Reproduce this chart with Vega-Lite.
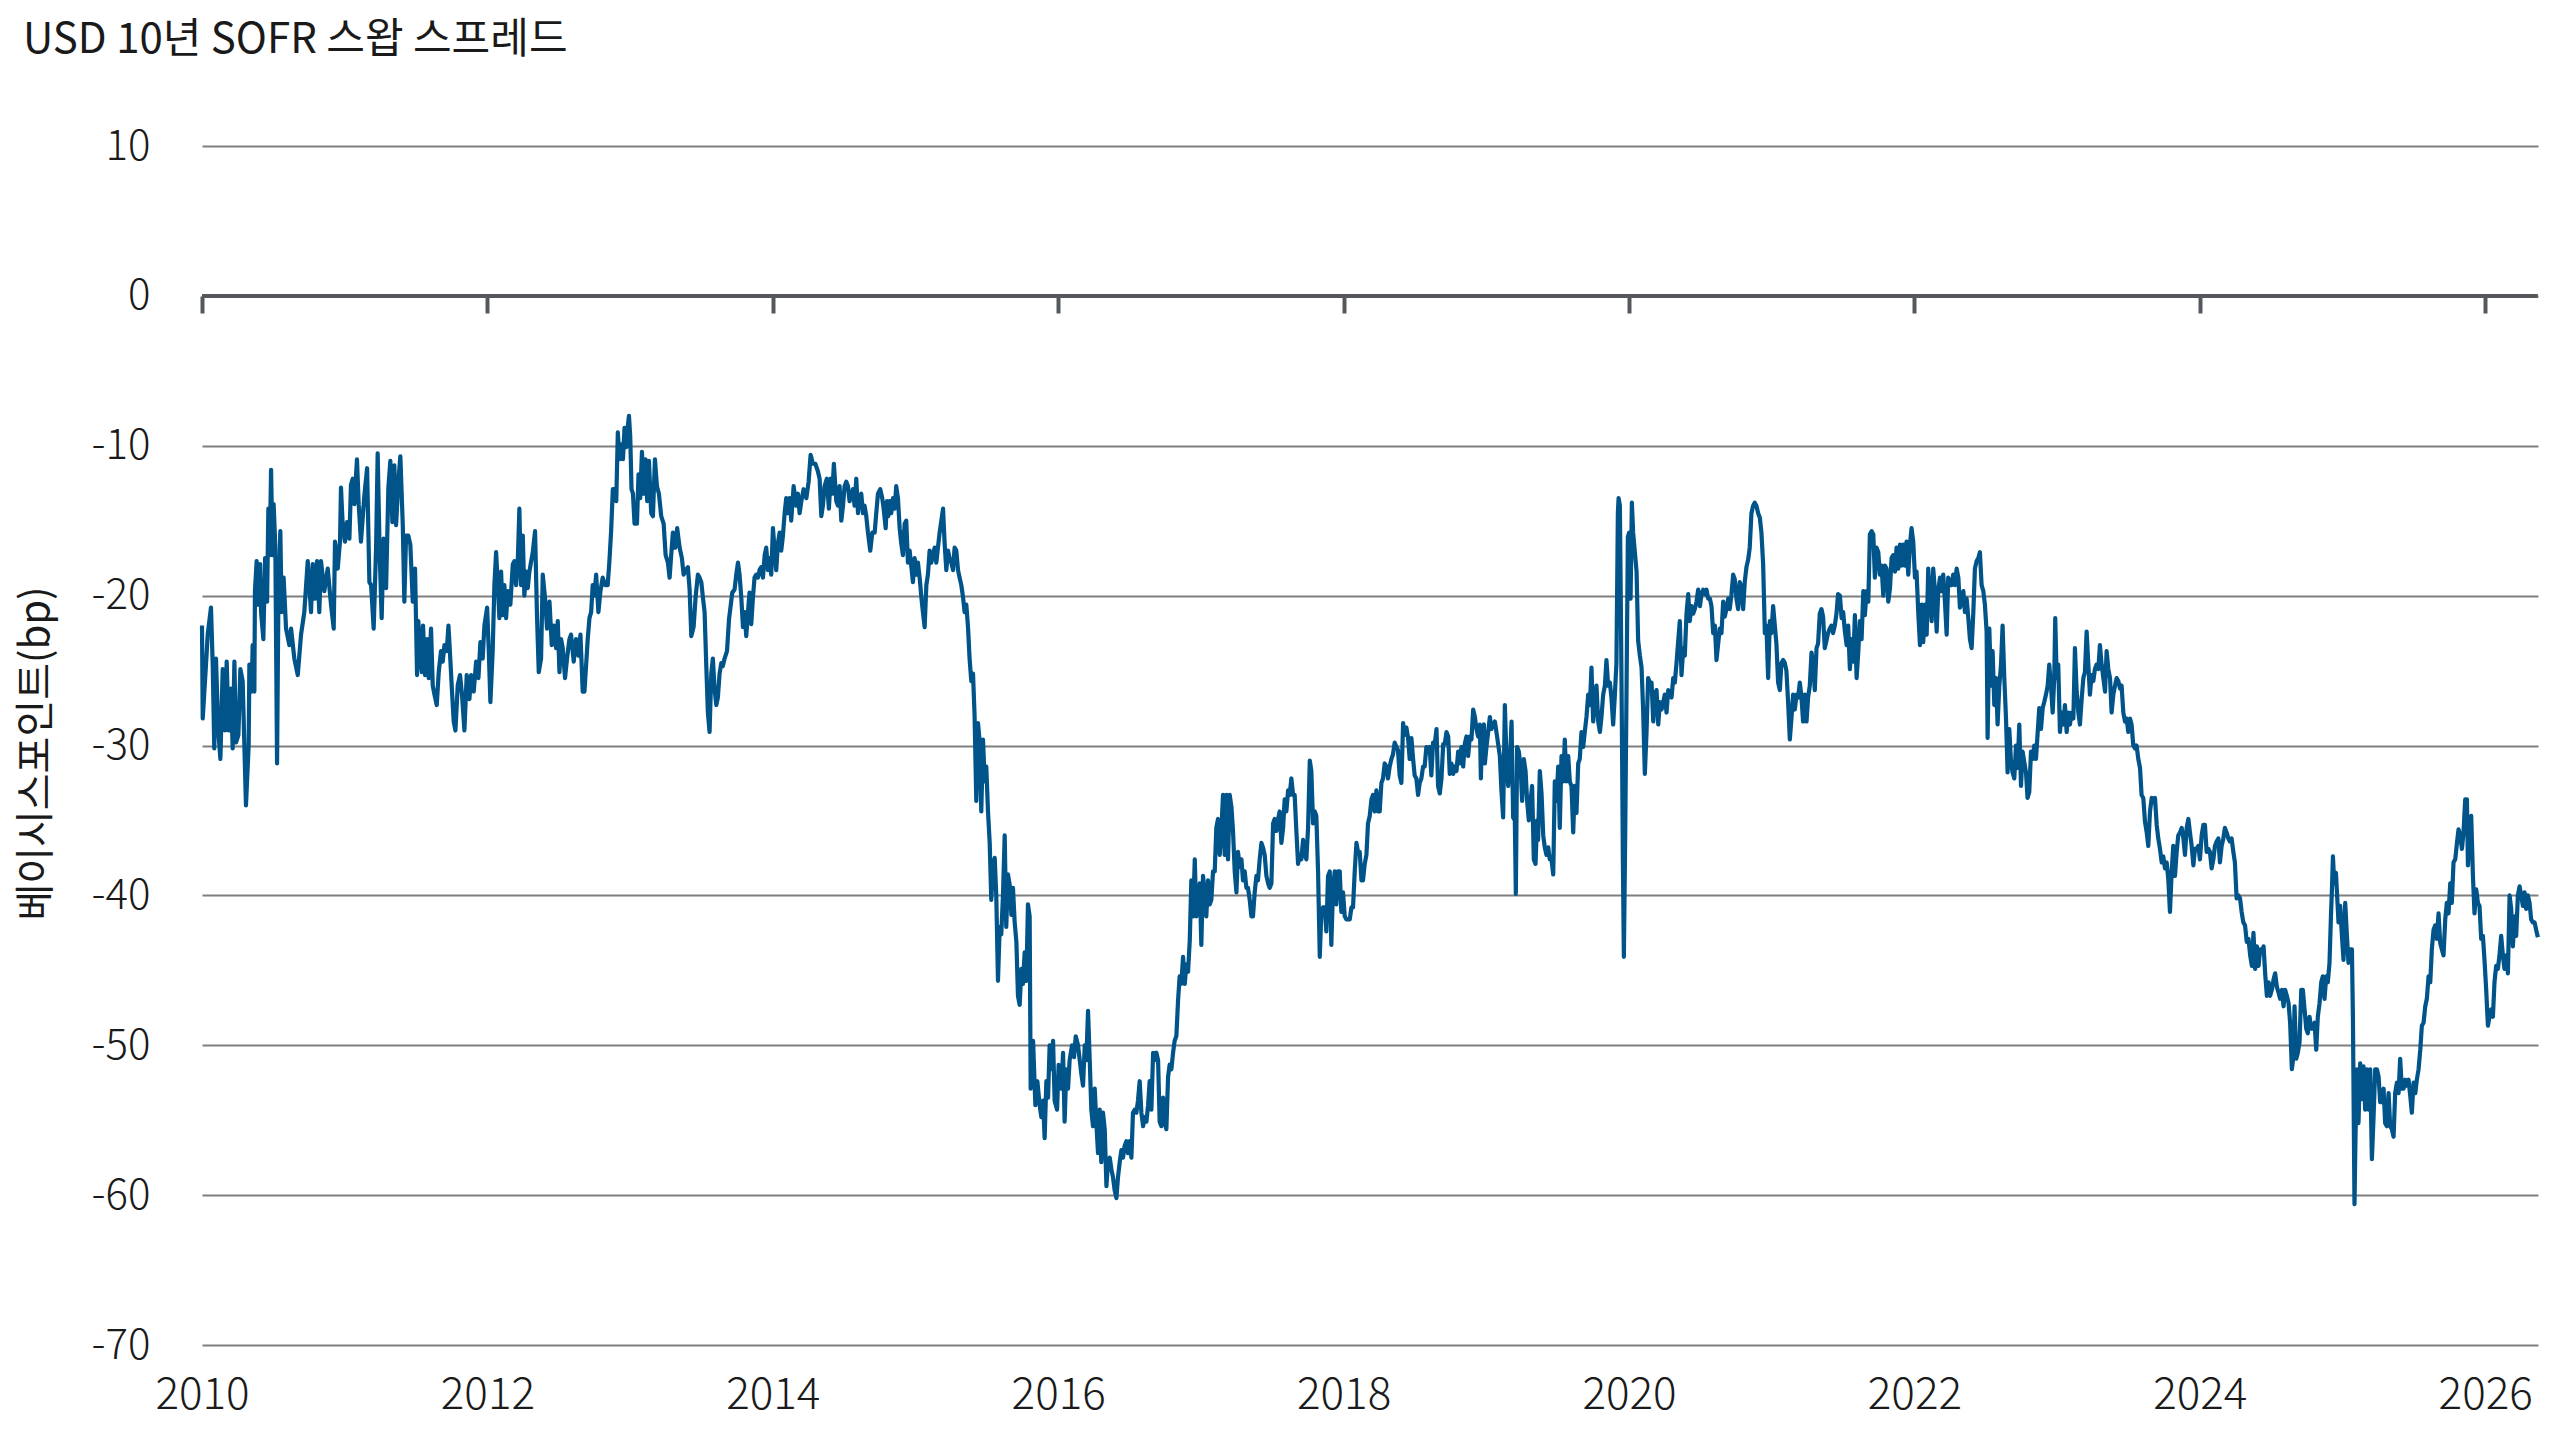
{
"$schema":"https://vega.github.io/schema/vega-lite/v6.json",
"width":2336,"height":1199,
"autosize":{"type":"none"},
"padding":{"left":202,"top":146,"right":22,"bottom":95},
"background":"white",
"config":{"font":"Noto Sans CJK KR","view":{"stroke":null}},
"title":{"text":"USD 10년 SOFR 스왑 스프레드","anchor":"start","frame":"group","dx":-179,"offset":30,"baseline":"alphabetic","fontSize":42,"fontWeight":400,"color":"#1a1a1a","font":"Noto Sans CJK KR"},
"data":{"values":[
{"t":2010.000,"v":-22},{"t":2010.005,"v":-28.2},{"t":2010.028,"v":-24.6},{"t":2010.040,"v":-22.6},{"t":2010.063,"v":-20.8},{"t":2010.075,"v":-24.6},{"t":2010.086,"v":-30.2},{"t":2010.098,"v":-24.2},{"t":2010.114,"v":-29},{"t":2010.129,"v":-30.9},{"t":2010.145,"v":-24.9},{"t":2010.161,"v":-29},{"t":2010.173,"v":-24.4},{"t":2010.187,"v":-29},{"t":2010.203,"v":-26.2},{"t":2010.215,"v":-30.2},{"t":2010.227,"v":-24.4},{"t":2010.238,"v":-29.8},{"t":2010.255,"v":-29.3},{"t":2010.269,"v":-24.9},{"t":2010.285,"v":-25.7},{"t":2010.308,"v":-34},{"t":2010.327,"v":-30},{"t":2010.332,"v":-24.6},{"t":2010.348,"v":-26.4},{"t":2010.355,"v":-23.3},{"t":2010.367,"v":-26.4},{"t":2010.371,"v":-19.7},{"t":2010.383,"v":-17.7},{"t":2010.395,"v":-20.6},{"t":2010.407,"v":-17.9},{"t":2010.414,"v":-21.1},{"t":2010.430,"v":-22.9},{"t":2010.442,"v":-17.5},{"t":2010.456,"v":-20.4},{"t":2010.465,"v":-14.2},{"t":2010.474,"v":-17.3},{"t":2010.484,"v":-11.6},{"t":2010.495,"v":-17.3},{"t":2010.502,"v":-13.9},{"t":2010.514,"v":-16.8},{"t":2010.526,"v":-31.2},{"t":2010.535,"v":-20.6},{"t":2010.549,"v":-15.7},{"t":2010.558,"v":-21.1},{"t":2010.572,"v":-18.8},{"t":2010.589,"v":-22.2},{"t":2010.612,"v":-23.3},{"t":2010.624,"v":-22.2},{"t":2010.647,"v":-24.2},{"t":2010.671,"v":-25.3},{"t":2010.694,"v":-22.6},{"t":2010.717,"v":-21.1},{"t":2010.741,"v":-17.7},{"t":2010.764,"v":-21.1},{"t":2010.776,"v":-17.9},{"t":2010.792,"v":-20.2},{"t":2010.806,"v":-17.7},{"t":2010.822,"v":-21.1},{"t":2010.834,"v":-17.7},{"t":2010.857,"v":-19.7},{"t":2010.881,"v":-18.2},{"t":2010.904,"v":-20.6},{"t":2010.923,"v":-22.2},{"t":2010.932,"v":-16.4},{"t":2010.951,"v":-18.2},{"t":2010.967,"v":-16.4},{"t":2010.974,"v":-12.8},{"t":2010.986,"v":-15.3},{"t":2011.002,"v":-16.4},{"t":2011.016,"v":-15.1},{"t":2011.033,"v":-16.2},{"t":2011.044,"v":-12.6},{"t":2011.056,"v":-12.2},{"t":2011.068,"v":-13.9},{"t":2011.086,"v":-10.9},{"t":2011.098,"v":-13.9},{"t":2011.114,"v":-16.4},{"t":2011.138,"v":-13.3},{"t":2011.157,"v":-11.5},{"t":2011.173,"v":-19.1},{"t":2011.185,"v":-19.3},{"t":2011.203,"v":-22.2},{"t":2011.220,"v":-16.8},{"t":2011.231,"v":-10.5},{"t":2011.245,"v":-17.1},{"t":2011.259,"v":-21.5},{"t":2011.273,"v":-16.2},{"t":2011.290,"v":-19.5},{"t":2011.306,"v":-12.8},{"t":2011.320,"v":-11},{"t":2011.334,"v":-15.1},{"t":2011.348,"v":-11.3},{"t":2011.360,"v":-15.3},{"t":2011.376,"v":-12.4},{"t":2011.390,"v":-10.7},{"t":2011.407,"v":-15.3},{"t":2011.418,"v":-20.4},{"t":2011.430,"v":-16},{"t":2011.446,"v":-16},{"t":2011.460,"v":-16.6},{"t":2011.477,"v":-20.4},{"t":2011.493,"v":-18.2},{"t":2011.507,"v":-25.3},{"t":2011.516,"v":-21.7},{"t":2011.530,"v":-24},{"t":2011.540,"v":-25.1},{"t":2011.549,"v":-22},{"t":2011.563,"v":-25.3},{"t":2011.577,"v":-22.9},{"t":2011.589,"v":-25.5},{"t":2011.605,"v":-22.2},{"t":2011.617,"v":-26},{"t":2011.629,"v":-26.6},{"t":2011.645,"v":-27.3},{"t":2011.659,"v":-25.1},{"t":2011.675,"v":-23.7},{"t":2011.687,"v":-24.4},{"t":2011.699,"v":-23.3},{"t":2011.715,"v":-23.7},{"t":2011.727,"v":-22},{"t":2011.741,"v":-24.4},{"t":2011.752,"v":-26.4},{"t":2011.764,"v":-28.4},{"t":2011.776,"v":-29},{"t":2011.792,"v":-26},{"t":2011.808,"v":-25.3},{"t":2011.822,"v":-26.6},{"t":2011.839,"v":-29},{"t":2011.855,"v":-25.3},{"t":2011.874,"v":-26.9},{"t":2011.886,"v":-25.3},{"t":2011.904,"v":-26.4},{"t":2011.921,"v":-24.4},{"t":2011.937,"v":-25.5},{"t":2011.951,"v":-23.1},{"t":2011.967,"v":-24.2},{"t":2011.979,"v":-22},{"t":2011.998,"v":-20.8},{"t":2012.009,"v":-23.5},{"t":2012.021,"v":-27.1},{"t":2012.037,"v":-23.7},{"t":2012.049,"v":-19.3},{"t":2012.061,"v":-17.1},{"t":2012.072,"v":-19.1},{"t":2012.084,"v":-21.5},{"t":2012.096,"v":-18.4},{"t":2012.107,"v":-21.3},{"t":2012.119,"v":-19.3},{"t":2012.131,"v":-21.5},{"t":2012.143,"v":-19.7},{"t":2012.161,"v":-20.6},{"t":2012.178,"v":-17.9},{"t":2012.189,"v":-17.7},{"t":2012.201,"v":-19.3},{"t":2012.213,"v":-17.7},{"t":2012.224,"v":-14.2},{"t":2012.236,"v":-19.3},{"t":2012.248,"v":-16},{"t":2012.259,"v":-20},{"t":2012.271,"v":-18.4},{"t":2012.283,"v":-19.5},{"t":2012.294,"v":-18.4},{"t":2012.318,"v":-17.1},{"t":2012.334,"v":-15.7},{"t":2012.348,"v":-21.5},{"t":2012.360,"v":-25.1},{"t":2012.376,"v":-24.2},{"t":2012.388,"v":-18.6},{"t":2012.404,"v":-20.2},{"t":2012.418,"v":-22.2},{"t":2012.435,"v":-20.4},{"t":2012.451,"v":-23.3},{"t":2012.465,"v":-22},{"t":2012.481,"v":-23.5},{"t":2012.493,"v":-21.7},{"t":2012.505,"v":-25.1},{"t":2012.516,"v":-22.9},{"t":2012.528,"v":-23.5},{"t":2012.544,"v":-25.5},{"t":2012.558,"v":-24.2},{"t":2012.575,"v":-22.9},{"t":2012.586,"v":-22.6},{"t":2012.605,"v":-24.4},{"t":2012.621,"v":-22.9},{"t":2012.638,"v":-24},{"t":2012.652,"v":-22.6},{"t":2012.668,"v":-26.4},{"t":2012.680,"v":-26.4},{"t":2012.692,"v":-24.6},{"t":2012.703,"v":-22.9},{"t":2012.715,"v":-21.5},{"t":2012.727,"v":-21.1},{"t":2012.738,"v":-19.3},{"t":2012.750,"v":-20},{"t":2012.762,"v":-18.6},{"t":2012.778,"v":-21.1},{"t":2012.792,"v":-19.7},{"t":2012.808,"v":-18.8},{"t":2012.825,"v":-19.3},{"t":2012.843,"v":-19.3},{"t":2012.855,"v":-17.7},{"t":2012.867,"v":-15.7},{"t":2012.879,"v":-12.9},
{"t":2012.891,"v":-12.9},{"t":2012.903,"v":-13.7},{"t":2012.914,"v":-9.1},{"t":2012.926,"v":-10.9},{"t":2012.938,"v":-9.9},{"t":2012.950,"v":-10.9},{"t":2012.961,"v":-8.8},{"t":2012.973,"v":-10.1},{"t":2012.985,"v":-8.6},{"t":2012.992,"v":-8},{"t":2013.001,"v":-9.4},{"t":2013.010,"v":-12.9},{"t":2013.020,"v":-13.2},{"t":2013.031,"v":-15.2},{"t":2013.048,"v":-15.2},{"t":2013.059,"v":-11.9},{"t":2013.071,"v":-13.5},{"t":2013.083,"v":-10.4},{"t":2013.097,"v":-13.2},{"t":2013.108,"v":-10.9},{"t":2013.120,"v":-13.7},{"t":2013.132,"v":-11},{"t":2013.148,"v":-14.5},{"t":2013.160,"v":-14.7},{"t":2013.174,"v":-10.9},{"t":2013.188,"v":-12.7},{"t":2013.202,"v":-13.2},{"t":2013.218,"v":-14.7},{"t":2013.235,"v":-15.2},{"t":2013.249,"v":-17.3},{"t":2013.265,"v":-17.8},{"t":2013.277,"v":-18.8},{"t":2013.288,"v":-17.3},{"t":2013.300,"v":-15.8},{"t":2013.316,"v":-16.8},{"t":2013.330,"v":-15.5},{"t":2013.347,"v":-16.8},{"t":2013.363,"v":-17.5},{"t":2013.375,"v":-18.6},{"t":2013.389,"v":-18.3},{"t":2013.405,"v":-18.1},{"t":2013.417,"v":-19.6},{"t":2013.429,"v":-22.7},{"t":2013.445,"v":-22.1},{"t":2013.459,"v":-20.1},{"t":2013.475,"v":-18.6},{"t":2013.487,"v":-18.8},{"t":2013.499,"v":-19.1},{"t":2013.510,"v":-20.1},{"t":2013.522,"v":-21.1},{"t":2013.534,"v":-24.7},{"t":2013.545,"v":-27.8},{"t":2013.557,"v":-29.1},{"t":2013.569,"v":-25.2},{"t":2013.580,"v":-24.2},{"t":2013.592,"v":-26.2},{"t":2013.604,"v":-27.3},{"t":2013.615,"v":-26.8},{"t":2013.627,"v":-25.2},{"t":2013.639,"v":-24.5},{"t":2013.650,"v":-24.7},{"t":2013.662,"v":-24.2},{"t":2013.679,"v":-23.7},{"t":2013.693,"v":-21.6},{"t":2013.702,"v":-20.9},{"t":2013.716,"v":-19.8},{"t":2013.732,"v":-19.6},{"t":2013.744,"v":-18.6},{"t":2013.756,"v":-17.8},{"t":2013.767,"v":-18.6},{"t":2013.779,"v":-20.1},{"t":2013.791,"v":-22.1},{"t":2013.802,"v":-21.1},{"t":2013.814,"v":-22.7},{"t":2013.826,"v":-21.1},{"t":2013.837,"v":-19.8},{"t":2013.849,"v":-21.9},{"t":2013.861,"v":-20.1},{"t":2013.872,"v":-18.8},{"t":2013.884,"v":-18.6},{"t":2013.896,"v":-18.8},{"t":2013.907,"v":-18.3},{"t":2013.919,"v":-18.1},{"t":2013.931,"v":-18.8},{"t":2013.943,"v":-17.3},{"t":2013.954,"v":-16.8},{"t":2013.966,"v":-18.3},{"t":2013.978,"v":-17.5},{"t":2013.989,"v":-18.6},{"t":2014.001,"v":-15.5},{"t":2014.013,"v":-17},{"t":2014.024,"v":-18.3},{"t":2014.036,"v":-16.5},{"t":2014.048,"v":-15.8},{"t":2014.059,"v":-17},{"t":2014.071,"v":-16},{"t":2014.083,"v":-14.5},{"t":2014.094,"v":-13.5},{"t":2014.106,"v":-14.5},{"t":2014.118,"v":-13.5},{"t":2014.129,"v":-15},{"t":2014.146,"v":-12.7},{"t":2014.164,"v":-14},{"t":2014.176,"v":-13.2},{"t":2014.188,"v":-14.5},{"t":2014.200,"v":-13.7},{"t":2014.216,"v":-12.9},{"t":2014.235,"v":-13.5},{"t":2014.251,"v":-12.4},{"t":2014.265,"v":-10.6},{"t":2014.281,"v":-11.2},{"t":2014.298,"v":-11.2},{"t":2014.316,"v":-11.7},{"t":2014.328,"v":-12.2},{"t":2014.340,"v":-14.7},{"t":2014.351,"v":-14},{"t":2014.363,"v":-12.7},{"t":2014.379,"v":-12.2},{"t":2014.393,"v":-14.2},{"t":2014.405,"v":-12.2},{"t":2014.417,"v":-13.2},{"t":2014.428,"v":-11.2},{"t":2014.445,"v":-13.7},{"t":2014.457,"v":-14},{"t":2014.468,"v":-12.7},{"t":2014.480,"v":-15},{"t":2014.492,"v":-14},{"t":2014.503,"v":-12.7},{"t":2014.515,"v":-12.4},{"t":2014.527,"v":-12.7},{"t":2014.538,"v":-13.7},{"t":2014.550,"v":-13.2},{"t":2014.562,"v":-12.9},{"t":2014.573,"v":-14},{"t":2014.585,"v":-12.2},{"t":2014.597,"v":-14.5},{"t":2014.608,"v":-13.5},{"t":2014.620,"v":-13.2},{"t":2014.632,"v":-14.5},{"t":2014.643,"v":-14},{"t":2014.655,"v":-14.7},{"t":2014.667,"v":-15.8},{"t":2014.683,"v":-17},{"t":2014.697,"v":-15.8},{"t":2014.714,"v":-15.8},{"t":2014.725,"v":-14.5},{"t":2014.737,"v":-13.2},{"t":2014.753,"v":-12.9},{"t":2014.767,"v":-13.5},{"t":2014.777,"v":-14.2},{"t":2014.791,"v":-15.5},{"t":2014.800,"v":-13.7},{"t":2014.809,"v":-14.7},{"t":2014.819,"v":-13.7},{"t":2014.830,"v":-14.5},{"t":2014.842,"v":-13.5},{"t":2014.854,"v":-14.2},{"t":2014.865,"v":-12.7},{"t":2014.877,"v":-13.5},{"t":2014.889,"v":-15.5},{"t":2014.900,"v":-16.5},{"t":2014.912,"v":-17.3},{"t":2014.924,"v":-15.2},{"t":2014.935,"v":-15},{"t":2014.947,"v":-17.8},{"t":2014.959,"v":-17},{"t":2014.971,"v":-18.1},{"t":2014.982,"v":-19.1},{"t":2014.994,"v":-17.5},{"t":2015.006,"v":-18.6},{"t":2015.017,"v":-17.8},{"t":2015.029,"v":-18.8},{"t":2015.041,"v":-20.1},{"t":2015.052,"v":-21.1},{"t":2015.064,"v":-22.1},{"t":2015.076,"v":-19.3},{"t":2015.087,"v":-18.6},{"t":2015.099,"v":-17},{"t":2015.111,"v":-17.8},{"t":2015.122,"v":-17.3},{"t":2015.134,"v":-16.8},{"t":2015.146,"v":-17.8},{"t":2015.157,"v":-16.8},{"t":2015.169,"v":-15.8},{"t":2015.181,"v":-15},{"t":2015.193,"v":-14.2},{"t":2015.204,"v":-16.5},{"t":2015.216,"v":-18.3},{"t":2015.228,"v":-17},{"t":2015.239,"v":-17.5},{"t":2015.251,"v":-17.8},{"t":2015.263,"v":-18.3},{"t":2015.274,"v":-16.8},{"t":2015.286,"v":-17},{"t":2015.298,"v":-18.3},{"t":2015.309,"v":-18.8},{"t":2015.321,"v":-19.3},{"t":2015.333,"v":-20.1},{"t":2015.344,"v":-21.1},{"t":2015.356,"v":-20.6},{"t":2015.368,"v":-22.1},{"t":2015.379,"v":-24.2},{"t":2015.391,"v":-25.7},{"t":2015.403,"v":-25.2},{"t":2015.414,"v":-28},{"t":2015.426,"v":-33.7},{"t":2015.438,"v":-28.5},{"t":2015.450,"v":-29.8},{"t":2015.461,"v":-34.4},{"t":2015.473,"v":-29.6},{"t":2015.485,"v":-32.4},{"t":2015.496,"v":-31.4},{"t":2015.508,"v":-34.4},{"t":2015.520,"v":-36.5},{"t":2015.531,"v":-40.3},{"t":2015.543,"v":-38},{"t":2015.555,"v":-37.5},{"t":2015.566,"v":-40},{"t":2015.578,"v":-45.7},{"t":2015.590,"v":-42.1},{"t":2015.601,"v":-42.6},{"t":2015.613,"v":-40},{"t":2015.625,"v":-36},{"t":2015.636,"v":-42.1},{"t":2015.648,"v":-38.6},{"t":2015.660,"v":-39.3},{"t":2015.672,"v":-41.3},{"t":2015.683,"v":-39.5},{"t":2015.695,"v":-41.8},{"t":2015.707,"v":-43.1},
{"t":2015.718,"v":-46.7},{"t":2015.730,"v":-47.3},{"t":2015.742,"v":-44.9},{"t":2015.753,"v":-45.9},{"t":2015.765,"v":-43.8},{"t":2015.777,"v":-45.7},{"t":2015.788,"v":-40.6},{"t":2015.800,"v":-41.4},{"t":2015.807,"v":-52.9},{"t":2015.824,"v":-49.7},{"t":2015.840,"v":-54},{"t":2015.854,"v":-52.4},{"t":2015.870,"v":-54},{"t":2015.882,"v":-54.8},{"t":2015.894,"v":-53.7},{"t":2015.905,"v":-56.2},{"t":2015.917,"v":-52.4},{"t":2015.929,"v":-53.5},{"t":2015.940,"v":-50},{"t":2015.952,"v":-51.6},{"t":2015.964,"v":-49.7},{"t":2015.975,"v":-53.7},{"t":2015.992,"v":-54.3},{"t":2016.003,"v":-51.3},{"t":2016.022,"v":-52.9},{"t":2016.034,"v":-50.5},{"t":2016.045,"v":-55.1},{"t":2016.057,"v":-51.6},{"t":2016.069,"v":-52.9},{"t":2016.080,"v":-51},{"t":2016.097,"v":-50},{"t":2016.111,"v":-50.8},{"t":2016.123,"v":-49.4},{"t":2016.139,"v":-50},{"t":2016.151,"v":-51},{"t":2016.162,"v":-51.9},{"t":2016.174,"v":-52.7},{"t":2016.186,"v":-50},{"t":2016.197,"v":-51},{"t":2016.209,"v":-47.7},{"t":2016.221,"v":-51},{"t":2016.232,"v":-54.3},{"t":2016.244,"v":-55.4},{"t":2016.256,"v":-52.9},{"t":2016.267,"v":-55.1},{"t":2016.279,"v":-57.2},{"t":2016.291,"v":-54.3},{"t":2016.302,"v":-57.8},{"t":2016.314,"v":-54.5},{"t":2016.326,"v":-55.6},{"t":2016.338,"v":-59.4},{"t":2016.349,"v":-57.8},{"t":2016.361,"v":-57.5},{"t":2016.373,"v":-58.3},{"t":2016.384,"v":-58.8},{"t":2016.396,"v":-59.7},{"t":2016.408,"v":-60.2},{"t":2016.419,"v":-58.8},{"t":2016.431,"v":-57.8},{"t":2016.443,"v":-57},{"t":2016.454,"v":-57.5},{"t":2016.466,"v":-56.7},{"t":2016.478,"v":-56.4},{"t":2016.489,"v":-57.2},{"t":2016.501,"v":-56.4},{"t":2016.513,"v":-57.5},{"t":2016.524,"v":-54.5},{"t":2016.536,"v":-54.3},{"t":2016.548,"v":-54.5},{"t":2016.559,"v":-53.7},{"t":2016.571,"v":-52.4},{"t":2016.583,"v":-54.5},{"t":2016.595,"v":-55.4},{"t":2016.606,"v":-54.8},{"t":2016.618,"v":-55.1},{"t":2016.630,"v":-54},{"t":2016.641,"v":-52.4},{"t":2016.653,"v":-54.3},{"t":2016.665,"v":-50.5},{"t":2016.676,"v":-51},{"t":2016.688,"v":-50.5},{"t":2016.700,"v":-51},{"t":2016.711,"v":-55.1},{"t":2016.723,"v":-55.4},{"t":2016.735,"v":-53.5},{"t":2016.746,"v":-55.1},{"t":2016.758,"v":-55.6},{"t":2016.770,"v":-52.1},{"t":2016.781,"v":-51.3},{"t":2016.793,"v":-51.6},{"t":2016.805,"v":-50.5},{"t":2016.816,"v":-49.7},{"t":2016.828,"v":-49.4},{"t":2016.840,"v":-47},{"t":2016.851,"v":-45.4},{"t":2016.863,"v":-45.9},{"t":2016.875,"v":-44.1},{"t":2016.887,"v":-45.9},{"t":2016.898,"v":-44.6},{"t":2016.910,"v":-45.1},{"t":2016.922,"v":-43},{"t":2016.933,"v":-39},{"t":2016.945,"v":-41.4},{"t":2016.957,"v":-37.6},{"t":2016.968,"v":-41.4},{"t":2016.980,"v":-40.6},{"t":2016.992,"v":-39.2},{"t":2017.003,"v":-43.3},{"t":2017.015,"v":-38.7},{"t":2017.027,"v":-40},{"t":2017.038,"v":-41.4},{"t":2017.050,"v":-39},{"t":2017.062,"v":-40.6},{"t":2017.073,"v":-40.3},{"t":2017.085,"v":-38.4},{"t":2017.097,"v":-38.4},{"t":2017.108,"v":-35.5},{"t":2017.120,"v":-34.9},{"t":2017.132,"v":-37.3},{"t":2017.143,"v":-35.7},{"t":2017.155,"v":-33.3},{"t":2017.167,"v":-37.3},{"t":2017.179,"v":-33.3},{"t":2017.190,"v":-37.6},{"t":2017.202,"v":-33.3},{"t":2017.214,"v":-34.1},{"t":2017.225,"v":-35.7},{"t":2017.237,"v":-38.4},{"t":2017.249,"v":-39.8},{"t":2017.260,"v":-37.1},{"t":2017.272,"v":-38.1},{"t":2017.284,"v":-37.6},{"t":2017.295,"v":-39},{"t":2017.307,"v":-38.4},{"t":2017.319,"v":-39.5},{"t":2017.330,"v":-39.5},{"t":2017.342,"v":-40.3},{"t":2017.354,"v":-41.4},{"t":2017.365,"v":-41.4},{"t":2017.377,"v":-39.8},{"t":2017.389,"v":-38.7},{"t":2017.400,"v":-39},{"t":2017.412,"v":-37.6},{"t":2017.424,"v":-36.5},{"t":2017.435,"v":-36.8},{"t":2017.447,"v":-37.3},{"t":2017.459,"v":-38.7},{"t":2017.471,"v":-39.2},{"t":2017.482,"v":-39.5},{"t":2017.494,"v":-39.2},{"t":2017.506,"v":-35.2},{"t":2017.517,"v":-34.9},{"t":2017.529,"v":-35.7},{"t":2017.541,"v":-34.9},{"t":2017.552,"v":-34.4},{"t":2017.564,"v":-36.5},{"t":2017.576,"v":-35.5},{"t":2017.587,"v":-33.6},{"t":2017.599,"v":-34.4},{"t":2017.611,"v":-33},{"t":2017.622,"v":-33.3},{"t":2017.634,"v":-32.2},{"t":2017.646,"v":-33.3},{"t":2017.657,"v":-33.3},{"t":2017.669,"v":-35.7},{"t":2017.681,"v":-37.9},{"t":2017.692,"v":-37.3},{"t":2017.704,"v":-37.6},{"t":2017.716,"v":-36.3},{"t":2017.727,"v":-37.1},{"t":2017.739,"v":-37.6},{"t":2017.751,"v":-35.5},{"t":2017.763,"v":-31},{"t":2017.774,"v":-31.7},{"t":2017.786,"v":-35.2},{"t":2017.798,"v":-34.4},{"t":2017.809,"v":-34.7},{"t":2017.821,"v":-38.4},{"t":2017.833,"v":-44.1},{"t":2017.844,"v":-41.1},{"t":2017.856,"v":-40.8},{"t":2017.868,"v":-40.8},{"t":2017.879,"v":-42.4},{"t":2017.891,"v":-38.7},{"t":2017.903,"v":-38.4},{"t":2017.914,"v":-43.3},{"t":2017.926,"v":-39.5},{"t":2017.938,"v":-38.4},{"t":2017.949,"v":-40.6},{"t":2017.961,"v":-38.4},{"t":2017.973,"v":-38.4},{"t":2017.984,"v":-41.1},{"t":2017.996,"v":-39.8},{"t":2018.008,"v":-41.4},{"t":2018.019,"v":-41.6},{"t":2018.031,"v":-41.6},{"t":2018.043,"v":-41.6},{"t":2018.055,"v":-40.8},{"t":2018.066,"v":-40.8},{"t":2018.078,"v":-38.4},{"t":2018.090,"v":-36.5},{"t":2018.101,"v":-37.1},{"t":2018.113,"v":-37.1},{"t":2018.125,"v":-39},{"t":2018.136,"v":-39},{"t":2018.148,"v":-37.9},{"t":2018.160,"v":-37.3},{"t":2018.171,"v":-35.2},{"t":2018.183,"v":-34.7},{"t":2018.195,"v":-33.6},{"t":2018.206,"v":-33.3},{"t":2018.218,"v":-34.4},{"t":2018.230,"v":-33},{"t":2018.241,"v":-34.4},{"t":2018.253,"v":-34.4},{"t":2018.265,"v":-32.5},{"t":2018.276,"v":-32.2},{"t":2018.288,"v":-31.2},{"t":2018.300,"v":-31.4},{"t":2018.311,"v":-32.2},{"t":2018.323,"v":-31.4},{"t":2018.335,"v":-30.9},{"t":2018.346,"v":-30.6},{"t":2018.358,"v":-29.8},{"t":2018.370,"v":-30.1},{"t":2018.381,"v":-30.3},{"t":2018.393,"v":-32},{"t":2018.405,"v":-32.5},{"t":2018.417,"v":-28.5},{"t":2018.428,"v":-29.3},{"t":2018.440,"v":-28.8},{"t":2018.452,"v":-29.5},{"t":2018.463,"v":-30.9},{"t":2018.475,"v":-29.5},{"t":2018.487,"v":-30.9},{"t":2018.498,"v":-32},{"t":2018.510,"v":-32.2},{"t":2018.522,"v":-33.3},{"t":2018.533,"v":-32.5},{"t":2018.545,"v":-32.2},{"t":2018.557,"v":-31.4},{"t":2018.568,"v":-31.4},{"t":2018.580,"v":-30.1},{"t":2018.592,"v":-30.3},{"t":2018.603,"v":-30.1},{"t":2018.615,"v":-32},{"t":2018.627,"v":-29.8},
{"t":2018.639,"v":-29.9},{"t":2018.651,"v":-28.9},{"t":2018.662,"v":-32.7},{"t":2018.674,"v":-33.2},{"t":2018.686,"v":-32.2},{"t":2018.698,"v":-29.9},{"t":2018.709,"v":-29.9},{"t":2018.721,"v":-29.1},{"t":2018.733,"v":-29.4},{"t":2018.744,"v":-31.9},{"t":2018.756,"v":-31.2},{"t":2018.768,"v":-31.9},{"t":2018.779,"v":-31.4},{"t":2018.791,"v":-31.7},{"t":2018.803,"v":-30.4},{"t":2018.814,"v":-31.2},{"t":2018.826,"v":-30.1},{"t":2018.838,"v":-31.4},{"t":2018.849,"v":-29.9},{"t":2018.861,"v":-29.4},{"t":2018.873,"v":-30.7},{"t":2018.884,"v":-29.4},{"t":2018.896,"v":-29.6},{"t":2018.908,"v":-27.6},{"t":2018.920,"v":-28.1},{"t":2018.931,"v":-28.9},{"t":2018.943,"v":-29.4},{"t":2018.955,"v":-28.6},{"t":2018.962,"v":-32.2},{"t":2018.971,"v":-28.9},{"t":2018.983,"v":-28.6},{"t":2018.990,"v":-31.2},{"t":2019.001,"v":-30.1},{"t":2019.013,"v":-29.1},{"t":2019.025,"v":-28.1},{"t":2019.036,"v":-28.9},{"t":2019.048,"v":-28.6},{"t":2019.060,"v":-28.4},{"t":2019.071,"v":-29.1},{"t":2019.083,"v":-29.9},{"t":2019.095,"v":-30.7},{"t":2019.106,"v":-33},{"t":2019.118,"v":-34.8},{"t":2019.130,"v":-27.3},{"t":2019.141,"v":-30.7},{"t":2019.153,"v":-32.7},{"t":2019.165,"v":-31.2},{"t":2019.177,"v":-28.4},{"t":2019.188,"v":-34.8},{"t":2019.200,"v":-35},{"t":2019.207,"v":-39.9},{"t":2019.216,"v":-30.1},{"t":2019.228,"v":-30.4},{"t":2019.240,"v":-31.4},{"t":2019.251,"v":-33.7},{"t":2019.263,"v":-30.9},{"t":2019.275,"v":-31.7},{"t":2019.286,"v":-33.7},{"t":2019.298,"v":-35},{"t":2019.310,"v":-33.7},{"t":2019.321,"v":-32.7},{"t":2019.333,"v":-37.6},{"t":2019.345,"v":-37.9},{"t":2019.356,"v":-35},{"t":2019.363,"v":-36.3},{"t":2019.375,"v":-31.7},{"t":2019.387,"v":-33.2},{"t":2019.399,"v":-36},{"t":2019.410,"v":-36.8},{"t":2019.422,"v":-37.3},{"t":2019.434,"v":-36.8},{"t":2019.445,"v":-37.6},{"t":2019.457,"v":-37.6},{"t":2019.469,"v":-38.6},{"t":2019.480,"v":-32.4},{"t":2019.492,"v":-33.7},{"t":2019.504,"v":-31.4},{"t":2019.515,"v":-35.5},{"t":2019.527,"v":-30.7},{"t":2019.539,"v":-32.4},{"t":2019.550,"v":-29.6},{"t":2019.562,"v":-32.4},{"t":2019.574,"v":-30.7},{"t":2019.585,"v":-32.4},{"t":2019.597,"v":-32.7},{"t":2019.609,"v":-35.8},{"t":2019.620,"v":-32.7},{"t":2019.632,"v":-34.5},{"t":2019.644,"v":-31.2},{"t":2019.655,"v":-30.9},{"t":2019.667,"v":-29.1},{"t":2019.679,"v":-30.1},{"t":2019.690,"v":-29.1},{"t":2019.702,"v":-28.1},{"t":2019.714,"v":-26.6},{"t":2019.726,"v":-27.3},{"t":2019.737,"v":-24.8},{"t":2019.749,"v":-28.4},{"t":2019.761,"v":-27.1},{"t":2019.772,"v":-26},{"t":2019.784,"v":-28.4},{"t":2019.796,"v":-29.1},{"t":2019.807,"v":-28.1},{"t":2019.819,"v":-26.6},{"t":2019.831,"v":-26},{"t":2019.842,"v":-24.3},{"t":2019.854,"v":-26},{"t":2019.866,"v":-25.8},{"t":2019.877,"v":-26.8},{"t":2019.889,"v":-28.6},{"t":2019.901,"v":-26.6},{"t":2019.912,"v":-24.5},{"t":2019.922,"v":-14.5},{"t":2019.927,"v":-13.5},{"t":2019.936,"v":-14},{"t":2019.943,"v":-20.9},{"t":2019.950,"v":-28.6},{"t":2019.957,"v":-37.6},{"t":2019.964,"v":-44.1},{"t":2019.973,"v":-36.3},{"t":2019.983,"v":-26},{"t":2019.992,"v":-16.1},{"t":2020.001,"v":-15.8},{"t":2020.011,"v":-20.2},{"t":2020.020,"v":-13.8},{"t":2020.029,"v":-15.8},{"t":2020.041,"v":-17.1},{"t":2020.053,"v":-18.4},{"t":2020.064,"v":-23},{"t":2020.076,"v":-24},{"t":2020.088,"v":-24.8},{"t":2020.099,"v":-27.6},{"t":2020.111,"v":-31.9},{"t":2020.123,"v":-29.1},{"t":2020.134,"v":-25.5},{"t":2020.146,"v":-25.8},{"t":2020.158,"v":-25.8},{"t":2020.170,"v":-28.4},{"t":2020.181,"v":-26.6},{"t":2020.193,"v":-26.3},{"t":2020.205,"v":-28.6},{"t":2020.216,"v":-27.1},{"t":2020.228,"v":-27.6},{"t":2020.240,"v":-27.1},{"t":2020.251,"v":-26.6},{"t":2020.263,"v":-27.8},{"t":2020.275,"v":-26.3},{"t":2020.286,"v":-26.6},{"t":2020.298,"v":-26.8},{"t":2020.310,"v":-25.5},{"t":2020.321,"v":-25.8},{"t":2020.333,"v":-24.5},{"t":2020.345,"v":-23},{"t":2020.356,"v":-21.7},{"t":2020.368,"v":-25.3},{"t":2020.380,"v":-23.5},{"t":2020.391,"v":-24},{"t":2020.403,"v":-21.2},{"t":2020.415,"v":-19.9},{"t":2020.426,"v":-21.7},{"t":2020.438,"v":-20.7},{"t":2020.450,"v":-21.2},{"t":2020.461,"v":-20.9},{"t":2020.473,"v":-20.4},{"t":2020.485,"v":-19.6},{"t":2020.497,"v":-20.7},{"t":2020.508,"v":-19.9},{"t":2020.520,"v":-19.6},{"t":2020.532,"v":-19.9},{"t":2020.543,"v":-19.6},{"t":2020.555,"v":-20.2},{"t":2020.567,"v":-20.2},{"t":2020.578,"v":-20.7},{"t":2020.590,"v":-22.5},{"t":2020.602,"v":-22},{"t":2020.613,"v":-24.3},{"t":2020.625,"v":-23.2},{"t":2020.636,"v":-22.2},{"t":2020.648,"v":-22.5},{"t":2020.660,"v":-20.4},{"t":2020.671,"v":-21.4},{"t":2020.683,"v":-20.9},{"t":2020.695,"v":-20.2},{"t":2020.706,"v":-20.9},{"t":2020.718,"v":-19.9},{"t":2020.730,"v":-18.6},{"t":2020.741,"v":-18.9},{"t":2020.753,"v":-20.2},{"t":2020.765,"v":-20.9},{"t":2020.776,"v":-19.1},{"t":2020.788,"v":-19.4},{"t":2020.800,"v":-20.9},{"t":2020.811,"v":-19.1},{"t":2020.823,"v":-18.1},{"t":2020.835,"v":-17.6},{"t":2020.846,"v":-16.8},{"t":2020.858,"v":-14.5},{"t":2020.870,"v":-14},{"t":2020.881,"v":-13.8},{"t":2020.893,"v":-14},{"t":2020.905,"v":-14.5},{"t":2020.917,"v":-14.8},{"t":2020.928,"v":-15.8},{"t":2020.940,"v":-17.9},{"t":2020.952,"v":-22.5},{"t":2020.963,"v":-22},{"t":2020.975,"v":-25.5},{"t":2020.987,"v":-21.7},{"t":2020.998,"v":-22.5},{"t":2021.010,"v":-20.7},{"t":2021.022,"v":-22},{"t":2021.033,"v":-23.2},{"t":2021.045,"v":-25.8},{"t":2021.057,"v":-26.3},{"t":2021.068,"v":-24.5},{"t":2021.080,"v":-24.3},{"t":2021.092,"v":-24.5},{"t":2021.103,"v":-25},{"t":2021.115,"v":-27.1},{"t":2021.127,"v":-29.6},{"t":2021.139,"v":-28.1},{"t":2021.150,"v":-26.6},{"t":2021.162,"v":-27.6},{"t":2021.174,"v":-26.6},{"t":2021.185,"v":-26.8},{"t":2021.197,"v":-25.8},{"t":2021.209,"v":-26.8},{"t":2021.220,"v":-28.4},{"t":2021.232,"v":-26.6},{"t":2021.244,"v":-28.4},{"t":2021.255,"v":-26.8},{"t":2021.267,"v":-26},{"t":2021.279,"v":-23.8},{"t":2021.290,"v":-24.5},{"t":2021.302,"v":-26.3},{"t":2021.314,"v":-23.5},{"t":2021.325,"v":-23.2},{"t":2021.337,"v":-21.2},{"t":2021.349,"v":-20.9},{"t":2021.360,"v":-21.4},{"t":2021.372,"v":-23.5},{"t":2021.384,"v":-23},{"t":2021.395,"v":-22.5},{"t":2021.407,"v":-22.2},{"t":2021.419,"v":-22},{"t":2021.430,"v":-22.5},{"t":2021.442,"v":-22},{"t":2021.454,"v":-21.2},{"t":2021.465,"v":-19.9},
{"t":2021.478,"v":-20},{"t":2021.490,"v":-21.5},{"t":2021.501,"v":-21.1},{"t":2021.513,"v":-22.4},{"t":2021.525,"v":-23.3},{"t":2021.536,"v":-22},{"t":2021.548,"v":-24.9},{"t":2021.560,"v":-22.9},{"t":2021.572,"v":-24.4},{"t":2021.583,"v":-21.3},{"t":2021.595,"v":-25.5},{"t":2021.607,"v":-23.7},{"t":2021.618,"v":-21.7},{"t":2021.630,"v":-22.9},{"t":2021.642,"v":-19.7},{"t":2021.653,"v":-21.3},{"t":2021.665,"v":-19.7},{"t":2021.677,"v":-20.4},{"t":2021.688,"v":-15.9},{"t":2021.700,"v":-15.7},{"t":2021.712,"v":-15.9},{"t":2021.723,"v":-18.8},{"t":2021.735,"v":-16.8},{"t":2021.747,"v":-17.1},{"t":2021.758,"v":-18.6},{"t":2021.770,"v":-18},{"t":2021.782,"v":-20},{"t":2021.793,"v":-18},{"t":2021.805,"v":-18.2},{"t":2021.817,"v":-20.4},{"t":2021.829,"v":-19.5},{"t":2021.840,"v":-17.5},{"t":2021.852,"v":-17.3},{"t":2021.864,"v":-18.4},{"t":2021.875,"v":-16.8},{"t":2021.887,"v":-18.2},{"t":2021.899,"v":-16.6},{"t":2021.910,"v":-18},{"t":2021.922,"v":-16.6},{"t":2021.934,"v":-18},{"t":2021.945,"v":-16.4},{"t":2021.957,"v":-18.6},{"t":2021.969,"v":-16.6},{"t":2021.980,"v":-15.5},{"t":2021.992,"v":-16.4},{"t":2022.004,"v":-18.8},{"t":2022.015,"v":-18.4},{"t":2022.027,"v":-21.1},{"t":2022.039,"v":-23.3},{"t":2022.051,"v":-20.6},{"t":2022.062,"v":-23.1},{"t":2022.074,"v":-20.6},{"t":2022.086,"v":-22.6},{"t":2022.097,"v":-18.2},{"t":2022.109,"v":-20},{"t":2022.121,"v":-21.7},{"t":2022.132,"v":-18.2},{"t":2022.144,"v":-19.7},{"t":2022.156,"v":-22.4},{"t":2022.167,"v":-19.7},{"t":2022.179,"v":-18.8},{"t":2022.191,"v":-19.7},{"t":2022.202,"v":-18.6},{"t":2022.214,"v":-20.4},{"t":2022.226,"v":-22.6},{"t":2022.237,"v":-18.8},{"t":2022.249,"v":-19.3},{"t":2022.261,"v":-19.3},{"t":2022.272,"v":-18.6},{"t":2022.284,"v":-19.3},{"t":2022.296,"v":-18.2},{"t":2022.308,"v":-18.8},{"t":2022.319,"v":-20.8},{"t":2022.331,"v":-20.4},{"t":2022.343,"v":-19.7},{"t":2022.354,"v":-21.1},{"t":2022.366,"v":-20.2},{"t":2022.378,"v":-21.5},{"t":2022.389,"v":-22.9},{"t":2022.401,"v":-23.5},{"t":2022.413,"v":-21.1},{"t":2022.424,"v":-18.2},{"t":2022.436,"v":-17.7},{"t":2022.448,"v":-17.5},{"t":2022.459,"v":-17.1},{"t":2022.471,"v":-19.3},{"t":2022.483,"v":-19.7},{"t":2022.494,"v":-20.6},{"t":2022.506,"v":-22.4},{"t":2022.513,"v":-29.5},{"t":2022.525,"v":-22.2},{"t":2022.537,"v":-26},{"t":2022.548,"v":-23.7},{"t":2022.560,"v":-27.3},{"t":2022.572,"v":-25.5},{"t":2022.583,"v":-28.6},{"t":2022.595,"v":-26},{"t":2022.607,"v":-24.6},{"t":2022.618,"v":-22},{"t":2022.630,"v":-25.5},{"t":2022.642,"v":-28.2},{"t":2022.653,"v":-31.8},{"t":2022.665,"v":-28.9},{"t":2022.677,"v":-31.1},{"t":2022.688,"v":-31.8},{"t":2022.700,"v":-32.2},{"t":2022.712,"v":-30},{"t":2022.723,"v":-31.5},{"t":2022.735,"v":-28.6},{"t":2022.747,"v":-32.7},{"t":2022.758,"v":-30.4},{"t":2022.770,"v":-31.1},{"t":2022.782,"v":-31.8},{"t":2022.793,"v":-33.5},{"t":2022.805,"v":-33.1},{"t":2022.817,"v":-30.4},{"t":2022.829,"v":-30.9},{"t":2022.840,"v":-30},{"t":2022.852,"v":-30.9},{"t":2022.864,"v":-29.1},{"t":2022.875,"v":-27.5},{"t":2022.887,"v":-28.9},{"t":2022.899,"v":-27.5},{"t":2022.910,"v":-27.1},{"t":2022.922,"v":-26.6},{"t":2022.934,"v":-26},{"t":2022.945,"v":-24.6},{"t":2022.957,"v":-26},{"t":2022.969,"v":-27.8},{"t":2022.980,"v":-25.5},{"t":2022.987,"v":-21.5},{"t":2022.997,"v":-25.5},{"t":2023.008,"v":-24.6},{"t":2023.020,"v":-29.1},{"t":2023.032,"v":-27.8},{"t":2023.044,"v":-28.6},{"t":2023.055,"v":-27.3},{"t":2023.067,"v":-29.1},{"t":2023.079,"v":-27.8},{"t":2023.090,"v":-28.6},{"t":2023.102,"v":-27.8},{"t":2023.114,"v":-28.2},{"t":2023.125,"v":-23.5},{"t":2023.137,"v":-26.4},{"t":2023.149,"v":-27.8},{"t":2023.160,"v":-28.6},{"t":2023.172,"v":-26.9},{"t":2023.184,"v":-25.5},{"t":2023.195,"v":-25.1},{"t":2023.207,"v":-22.4},{"t":2023.219,"v":-24.6},{"t":2023.230,"v":-26.6},{"t":2023.242,"v":-25.3},{"t":2023.254,"v":-25.7},{"t":2023.265,"v":-24.9},{"t":2023.277,"v":-24.6},{"t":2023.289,"v":-24.9},{"t":2023.300,"v":-23.3},{"t":2023.312,"v":-24.6},{"t":2023.324,"v":-25.5},{"t":2023.336,"v":-26.4},{"t":2023.347,"v":-23.7},{"t":2023.359,"v":-24.9},{"t":2023.371,"v":-25.5},{"t":2023.382,"v":-27.8},{"t":2023.394,"v":-26.6},{"t":2023.406,"v":-26},{"t":2023.417,"v":-25.5},{"t":2023.429,"v":-25.7},{"t":2023.441,"v":-26.2},{"t":2023.452,"v":-26},{"t":2023.464,"v":-27.8},{"t":2023.476,"v":-28.4},{"t":2023.487,"v":-28.2},{"t":2023.499,"v":-29.1},{"t":2023.511,"v":-28.2},{"t":2023.522,"v":-28.6},{"t":2023.534,"v":-30},{"t":2023.546,"v":-30.2},{"t":2023.557,"v":-30},{"t":2023.569,"v":-30.9},{"t":2023.581,"v":-31.5},{"t":2023.592,"v":-33.3},{"t":2023.604,"v":-33.5},{"t":2023.616,"v":-35.1},{"t":2023.628,"v":-35.8},{"t":2023.639,"v":-36.7},{"t":2023.651,"v":-34.4},{"t":2023.663,"v":-33.5},{"t":2023.674,"v":-33.8},{"t":2023.686,"v":-33.5},{"t":2023.698,"v":-35.3},{"t":2023.709,"v":-36.2},{"t":2023.721,"v":-36.9},{"t":2023.733,"v":-37.8},{"t":2023.744,"v":-37.4},{"t":2023.756,"v":-38.2},{"t":2023.768,"v":-37.8},{"t":2023.779,"v":-38.9},{"t":2023.791,"v":-41.1},{"t":2023.803,"v":-38.4},{"t":2023.814,"v":-36.7},{"t":2023.826,"v":-38.7},{"t":2023.838,"v":-37.1},{"t":2023.849,"v":-36},{"t":2023.861,"v":-35.8},{"t":2023.873,"v":-35.5},{"t":2023.885,"v":-36.2},{"t":2023.896,"v":-37.3},{"t":2023.908,"v":-35.5},{"t":2023.920,"v":-34.9},{"t":2023.931,"v":-35.8},{"t":2023.943,"v":-36.7},{"t":2023.955,"v":-38},{"t":2023.966,"v":-36.9},{"t":2023.978,"v":-36.9},{"t":2023.990,"v":-36.7},{"t":2024.001,"v":-37.6},{"t":2024.013,"v":-36},{"t":2024.025,"v":-35.3},{"t":2024.036,"v":-35.3},{"t":2024.048,"v":-37.1},{"t":2024.060,"v":-36.9},{"t":2024.071,"v":-37.1},{"t":2024.083,"v":-38.2},{"t":2024.095,"v":-37.6},{"t":2024.106,"v":-36.7},{"t":2024.118,"v":-36.4},{"t":2024.130,"v":-36.2},{"t":2024.141,"v":-37.8},{"t":2024.153,"v":-36.7},{"t":2024.165,"v":-36.2},{"t":2024.176,"v":-35.5},{"t":2024.188,"v":-35.8},{"t":2024.200,"v":-36.2},{"t":2024.211,"v":-36.4},{"t":2024.223,"v":-36.2},{"t":2024.235,"v":-37.1},{"t":2024.246,"v":-37.8},{"t":2024.258,"v":-40.2},{"t":2024.270,"v":-40},{"t":2024.282,"v":-40.2},{"t":2024.293,"v":-41.1},{"t":2024.305,"v":-41.8},{"t":2024.317,"v":-42},{"t":2024.329,"v":-43.1},
{"t":2024.341,"v":-42.9},{"t":2024.353,"v":-44},{"t":2024.365,"v":-44.7},{"t":2024.376,"v":-42.5},{"t":2024.388,"v":-44.9},{"t":2024.400,"v":-43.4},{"t":2024.412,"v":-44.7},{"t":2024.423,"v":-43.6},{"t":2024.435,"v":-43.8},{"t":2024.447,"v":-43.4},{"t":2024.458,"v":-45.2},{"t":2024.470,"v":-46.7},{"t":2024.482,"v":-45.8},{"t":2024.493,"v":-46.7},{"t":2024.505,"v":-46.3},{"t":2024.517,"v":-45.6},{"t":2024.528,"v":-45.2},{"t":2024.540,"v":-46.1},{"t":2024.552,"v":-46.5},{"t":2024.563,"v":-46.9},{"t":2024.575,"v":-46.3},{"t":2024.587,"v":-47.4},{"t":2024.598,"v":-46.3},{"t":2024.610,"v":-46.7},{"t":2024.622,"v":-47.2},{"t":2024.633,"v":-48.5},{"t":2024.645,"v":-51.6},{"t":2024.657,"v":-50.7},{"t":2024.664,"v":-47.4},{"t":2024.676,"v":-50.9},{"t":2024.687,"v":-50.5},{"t":2024.699,"v":-49.8},{"t":2024.711,"v":-46.3},{"t":2024.722,"v":-46.3},{"t":2024.734,"v":-47.6},{"t":2024.746,"v":-48.9},{"t":2024.757,"v":-49.2},{"t":2024.769,"v":-48.1},{"t":2024.781,"v":-48.9},{"t":2024.792,"v":-48.9},{"t":2024.804,"v":-48.5},{"t":2024.816,"v":-50.3},{"t":2024.827,"v":-48.1},{"t":2024.839,"v":-47.2},{"t":2024.851,"v":-45.8},{"t":2024.862,"v":-45.4},{"t":2024.874,"v":-46.9},{"t":2024.886,"v":-45.4},{"t":2024.897,"v":-45.8},{"t":2024.909,"v":-44.5},{"t":2024.919,"v":-41.4},{"t":2024.926,"v":-39.6},{"t":2024.933,"v":-37.4},{"t":2024.942,"v":-39.2},{"t":2024.954,"v":-38.5},{"t":2024.965,"v":-40.5},{"t":2024.972,"v":-41.8},{"t":2024.984,"v":-40.7},{"t":2024.996,"v":-42.7},{"t":2025.007,"v":-44.3},{"t":2025.019,"v":-40.5},{"t":2025.031,"v":-42.7},{"t":2025.042,"v":-44.5},{"t":2025.054,"v":-43.6},{"t":2025.066,"v":-43.6},{"t":2025.073,"v":-48.1},{"t":2025.080,"v":-56.1},{"t":2025.084,"v":-60.6},{"t":2025.091,"v":-56.1},{"t":2025.101,"v":-51.6},{"t":2025.112,"v":-55.2},{"t":2025.124,"v":-51.2},{"t":2025.136,"v":-53.6},{"t":2025.147,"v":-51.4},{"t":2025.159,"v":-54.3},{"t":2025.171,"v":-51.6},{"t":2025.183,"v":-54.3},{"t":2025.194,"v":-51.6},{"t":2025.206,"v":-57.6},{"t":2025.218,"v":-54.7},{"t":2025.229,"v":-51.6},{"t":2025.241,"v":-51.6},{"t":2025.253,"v":-52.1},{"t":2025.264,"v":-53.8},{"t":2025.276,"v":-53.8},{"t":2025.288,"v":-52.9},{"t":2025.299,"v":-55.2},{"t":2025.311,"v":-55.4},{"t":2025.323,"v":-53.2},{"t":2025.334,"v":-55.4},{"t":2025.346,"v":-55.6},{"t":2025.358,"v":-56.1},{"t":2025.369,"v":-53.2},{"t":2025.381,"v":-52.5},{"t":2025.393,"v":-53.2},{"t":2025.404,"v":-50.9},{"t":2025.416,"v":-52.9},{"t":2025.428,"v":-52.9},{"t":2025.440,"v":-52.3},{"t":2025.451,"v":-52.7},{"t":2025.463,"v":-52.3},{"t":2025.475,"v":-53.4},{"t":2025.486,"v":-54.5},{"t":2025.498,"v":-52.5},{"t":2025.510,"v":-53.2},{"t":2025.521,"v":-52.3},{"t":2025.533,"v":-51.6},{"t":2025.545,"v":-50.3},{"t":2025.556,"v":-48.7},{"t":2025.568,"v":-48.5},{"t":2025.580,"v":-47.4},{"t":2025.591,"v":-46.9},{"t":2025.603,"v":-45.4},{"t":2025.615,"v":-45.8},{"t":2025.626,"v":-43.6},{"t":2025.638,"v":-42.3},{"t":2025.650,"v":-42},{"t":2025.661,"v":-42.9},{"t":2025.673,"v":-41.2},{"t":2025.685,"v":-43.2},{"t":2025.696,"v":-43.6},{"t":2025.708,"v":-44},{"t":2025.720,"v":-41.6},{"t":2025.731,"v":-40.5},{"t":2025.743,"v":-41.2},{"t":2025.755,"v":-39.2},{"t":2025.766,"v":-40.5},{"t":2025.778,"v":-37.8},{"t":2025.790,"v":-37.6},{"t":2025.802,"v":-36.5},{"t":2025.813,"v":-35.6},{"t":2025.825,"v":-36},{"t":2025.837,"v":-36.9},{"t":2025.848,"v":-35.8},{"t":2025.860,"v":-33.6},{"t":2025.872,"v":-33.6},{"t":2025.879,"v":-38},{"t":2025.890,"v":-35.8},{"t":2025.902,"v":-34.7},{"t":2025.914,"v":-38.7},{"t":2025.925,"v":-41.2},{"t":2025.937,"v":-39.6},{"t":2025.949,"v":-40.5},{"t":2025.960,"v":-40.7},{"t":2025.972,"v":-42.9},{"t":2025.984,"v":-42.7},{"t":2025.995,"v":-44.3},{"t":2026.007,"v":-46.3},{"t":2026.019,"v":-48.7},{"t":2026.030,"v":-48.1},{"t":2026.042,"v":-47.6},{"t":2026.054,"v":-48.1},{"t":2026.065,"v":-45.8},{"t":2026.077,"v":-44.7},{"t":2026.089,"v":-44.9},{"t":2026.100,"v":-44},{"t":2026.112,"v":-42.7},{"t":2026.124,"v":-44},{"t":2026.135,"v":-44.9},{"t":2026.147,"v":-44},{"t":2026.159,"v":-45.2},{"t":2026.171,"v":-40},{"t":2026.182,"v":-40.9},{"t":2026.194,"v":-43.4},{"t":2026.206,"v":-41.4},{"t":2026.217,"v":-42.7},{"t":2026.229,"v":-40},{"t":2026.241,"v":-39.4},{"t":2026.252,"v":-40},{"t":2026.264,"v":-40.7},{"t":2026.276,"v":-39.8},{"t":2026.287,"v":-40.9},{"t":2026.299,"v":-40},{"t":2026.311,"v":-40.5},{"t":2026.322,"v":-41.6},{"t":2026.334,"v":-41.8},{"t":2026.346,"v":-41.8},{"t":2026.357,"v":-42.3},{"t":2026.369,"v":-42.8}
]},
"resolve":{"axis":{"x":"independent"}},
"layer":[
{"mark":{"type":"rule","color":"#54585d","strokeWidth":4},
 "encoding":{
  "x":{"aggregate":"min","field":"t","type":"quantitative","scale":{"domain":[2010,2026.37],"nice":false,"zero":false},
       "axis":{"orient":"bottom","values":[2010,2012,2014,2016,2018,2020,2022,2024,2026],"offset":-1049,"domain":false,"grid":false,"labels":false,"ticks":true,"tickSize":17,"tickWidth":4,"tickColor":"#54585d","title":null}},
  "x2":{"aggregate":"max","field":"t"},
  "y":{"datum":0,"type":"quantitative"}
 }},
{"mark":{"type":"line","color":"#00548a","strokeWidth":4.2,"strokeJoin":"round"},
 "encoding":{
  "x":{"field":"t","type":"quantitative","scale":{"domain":[2010,2026.37],"nice":false,"zero":false},
       "axis":{"orient":"bottom","values":[2010,2012,2014,2016,2018,2020,2022,2024,2026],"title":null,"grid":false,"domain":false,"ticks":false,"labelExpr":"'' + datum.value","labelFontSize":44,"labelFontWeight":300,"labelColor":"#1a1a1a","labelPadding":28,"labelFlush":false,"labelFont":"Noto Sans CJK KR"}},
  "y":{"field":"v","type":"quantitative","scale":{"domain":[-70,10],"nice":false,"zero":false},
       "axis":{"values":[-70,-60,-50,-40,-30,-20,-10,0,10],"title":"베이시스포인트(bp)","titleFontSize":40,"titleFontWeight":400,"titleColor":"#1a1a1a","titleFont":"Noto Sans CJK KR","titleX":-166,"titleY":607,"titleAngle":-90,"titleBaseline":"middle","titleAlign":"center","grid":true,"gridColor":"#7f7f7f","gridWidth":2,"domain":false,"ticks":false,"labelExpr":"'' + datum.value","labelFontSize":42,"labelFontWeight":300,"labelColor":"#1a1a1a","labelPadding":52,"labelFont":"Noto Sans CJK KR"}}
 }}
]
}
